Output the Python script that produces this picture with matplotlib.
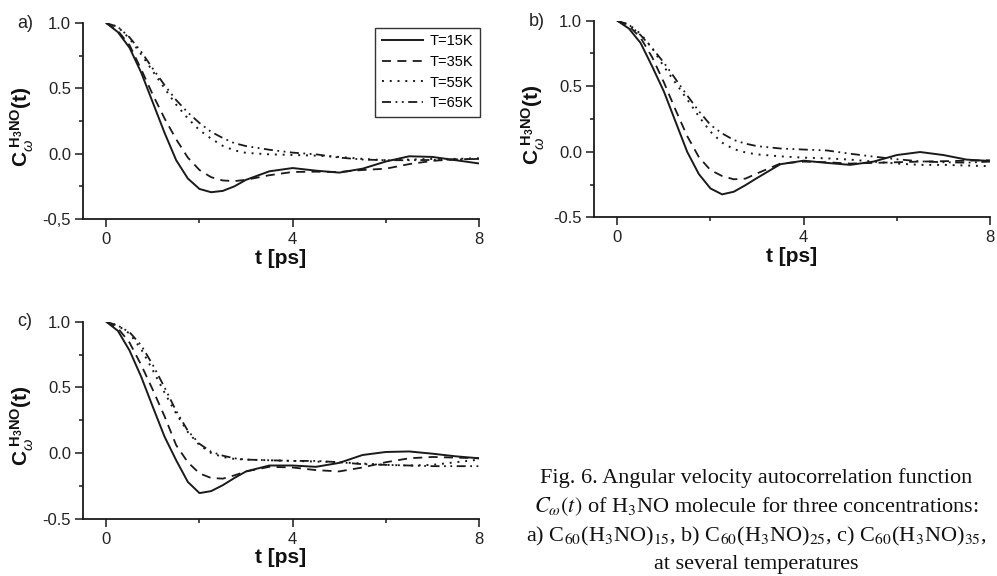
import matplotlib
matplotlib.use("Agg")
import matplotlib.pyplot as plt

plt.rcParams['font.family'] = ['Liberation Sans', 'DejaVu Sans']
plt.rcParams['mathtext.fontset'] = 'custom'
plt.rcParams['mathtext.rm'] = 'Liberation Sans'
plt.rcParams['mathtext.bf'] = 'Liberation Sans:bold'
plt.rcParams['mathtext.it'] = 'Liberation Sans:italic'

# ---------------- data ----------------
t = [0, 0.25, 0.5, 0.75, 1.0, 1.25, 1.5, 1.75, 2.0, 2.25, 2.5, 2.75, 3.0,
     3.5, 4.0, 4.5, 5.0, 5.5, 6.0, 6.5, 7.0, 7.5, 8.0]

labels = ["T=15K", "T=35K", "T=55K", "T=65K"]

a_15 = [1.0, 0.93, 0.81, 0.62, 0.39, 0.16, -0.05, -0.19, -0.27, -0.295, -0.285, -0.25, -0.20,
        -0.135, -0.11, -0.13, -0.145, -0.115, -0.06, -0.02, -0.025, -0.05, -0.075]
a_35 = [1.0, 0.94, 0.83, 0.645, 0.45, 0.27, 0.11, -0.03, -0.125, -0.18, -0.205, -0.21, -0.20,
        -0.165, -0.14, -0.138, -0.14, -0.125, -0.115, -0.08, -0.055, -0.043, -0.04]
a_55 = [1.0, 0.97, 0.88, 0.76, 0.63, 0.50, 0.375, 0.27, 0.18, 0.115, 0.06, 0.025, 0.006,
        -0.005, -0.01, -0.015, -0.025, -0.04, -0.05, -0.045, -0.04, -0.04, -0.035]
a_65 = [1.0, 0.97, 0.89, 0.78, 0.65, 0.525, 0.41, 0.315, 0.235, 0.167, 0.12, 0.08, 0.058,
        0.03, 0.008, -0.005, -0.03, -0.045, -0.05, -0.05, -0.048, -0.045, -0.04]

b_15 = [1.0, 0.94, 0.83, 0.65, 0.46, 0.23, 0.0, -0.17, -0.28, -0.325, -0.305, -0.255, -0.20,
        -0.095, -0.068, -0.085, -0.10, -0.075, -0.025, -0.002, -0.025, -0.06, -0.07]
b_35 = [1.0, 0.96, 0.87, 0.72, 0.53, 0.32, 0.12, -0.04, -0.14, -0.185, -0.21, -0.205, -0.165,
        -0.09, -0.075, -0.08, -0.09, -0.085, -0.08, -0.075, -0.072, -0.068, -0.065]
b_55 = [1.0, 0.97, 0.90, 0.79, 0.65, 0.525, 0.40, 0.27, 0.153, 0.07, 0.02, -0.005, -0.02,
        -0.035, -0.045, -0.05, -0.06, -0.075, -0.09, -0.10, -0.10, -0.105, -0.11]
b_65 = [1.0, 0.97, 0.89, 0.79, 0.68, 0.555, 0.43, 0.31, 0.205, 0.14, 0.09, 0.062, 0.043,
        0.025, 0.017, 0.01, -0.015, -0.037, -0.057, -0.073, -0.08, -0.083, -0.075]

c_15 = [1.0, 0.93, 0.78, 0.58, 0.35, 0.125, -0.055, -0.22, -0.305, -0.29, -0.245, -0.19, -0.14,
        -0.095, -0.095, -0.105, -0.075, -0.015, 0.008, 0.012, -0.005, -0.025, -0.04]
c_35 = [1.0, 0.95, 0.84, 0.67, 0.48, 0.28, 0.06, -0.07, -0.155, -0.19, -0.195, -0.17, -0.14,
        -0.105, -0.11, -0.13, -0.14, -0.11, -0.07, -0.04, -0.03, -0.035, -0.04]
c_55 = [1.0, 0.97, 0.91, 0.79, 0.63, 0.46, 0.30, 0.16, 0.06, 0.0, -0.03, -0.045, -0.05,
        -0.055, -0.06, -0.065, -0.07, -0.08, -0.09, -0.095, -0.09, -0.07, -0.05]
c_65 = [1.0, 0.97, 0.92, 0.82, 0.67, 0.50, 0.32, 0.17, 0.07, 0.01, -0.02, -0.04, -0.05,
        -0.055, -0.06, -0.06, -0.07, -0.085, -0.09, -0.095, -0.10, -0.10, -0.10]

x_ticks = [0, 4, 8]
x_minor = [2, 6]
y_ticks = [1.0, 0.5, 0.0, -0.5]
y_minor = [0.75, 0.25, -0.25]
y_ticklabels_a = ["1.0", "0.5", "0.0", "-0,5"]
y_ticklabels_bc = ["1.0", "0.5", "0.0", "-0.5"]

# ---------------- styles ----------------
INK = '#1a1a1a'
styles = [
    dict(linestyle='-', linewidth=1.4),
    dict(linestyle=(0, (5, 3.5)), linewidth=1.3),
    dict(linestyle=(0, (1, 3)), linewidth=1.4),
    dict(linestyle=(0, (5, 2.5, 1, 2.5, 1, 2.5)), linewidth=1.3),
]

fig = plt.figure(figsize=(9.97, 5.76), dpi=100)

W = 396 / 997
panels = [
    ("a)", [a_15, a_35, a_55, a_65], [83 / 997, 1 - 219 / 576, W, 196 / 576], y_ticklabels_a, (17, 24)),
    ("b)", [b_15, b_35, b_55, b_65], [594 / 997, 1 - 217.3 / 576, W, 196.6 / 576], y_ticklabels_bc, (529, 22)),
    ("c)", [c_15, c_35, c_55, c_65], [83 / 997, 1 - 518.7 / 576, W, 197 / 576], y_ticklabels_bc, (17, 322)),
]

ylabel = r'$\mathbf{C}_{\omega}^{\ \mathbf{H_3NO}}\mathbf{(t)}$'

for i, (tag, series, rect, yticklabels, tagpos) in enumerate(panels):
    ax = fig.add_axes(rect)
    for s, lab, st in zip(series, labels, styles):
        ax.plot(t, s, color=INK, label=lab, solid_joinstyle='round', **st)
    ax.set_xlim(-0.5, 8)
    ax.set_ylim(-0.5, 1.0)
    for side in ('top', 'right'):
        ax.spines[side].set_visible(False)
    for side in ('left', 'bottom'):
        ax.spines[side].set_linewidth(1.3)
        ax.spines[side].set_color(INK)
    ax.set_xticks(x_ticks)
    ax.set_xticks(x_minor, minor=True)
    ax.set_yticks(y_ticks)
    ax.set_yticks(y_minor, minor=True)
    ax.set_yticklabels(yticklabels)
    ax.tick_params(axis='both', which='both', direction='out', color=INK, width=1.1)
    ax.tick_params(axis='both', which='major', length=5.5, labelsize=12, labelcolor='#222222')
    ax.tick_params(axis='both', which='minor', length=3.0)
    ax.tick_params(axis='x', which='major', pad=4)
    ax.tick_params(axis='y', which='major', pad=3)
    ax.set_xlabel('t [ps]', fontsize=15, fontweight='bold', color='#111111', labelpad=1)
    ax.set_ylabel(ylabel, fontsize=15, color='#111111')
    ax.yaxis.set_label_coords(-0.118, 0.47)
    fig.text(tagpos[0] / 997, 1 - tagpos[1] / 576, tag, fontsize=13, ha='left', va='center',
             color='#222222')
    if i == 0:
        leg = ax.legend(loc='upper right', bbox_to_anchor=(1.003, 0.975), fontsize=10.5,
                        handlelength=2.8, handletextpad=0.5, labelspacing=0.45,
                        borderpad=0.45, fancybox=False, framealpha=1, borderaxespad=0)
        leg.get_frame().set_edgecolor('#333333')
        leg.get_frame().set_linewidth(1.0)

caption = [
    "Fig. 6. Angular velocity autocorrelation function",
    r"$C_{\omega}(t)$ of H$_3$NO molecule for three concentrations:",
    r"a) C$_{60}$(H$_3$NO)$_{15}$, b) C$_{60}$(H$_3$NO)$_{25}$, c) C$_{60}$(H$_3$NO)$_{35}$,",
    "at several temperatures",
]
baselines = [483, 512, 541, 569]
for line, yb in zip(caption, baselines):
    fig.text(756 / 997, 1 - yb / 576, line, fontsize=16, ha='center', va='baseline',
             family=['Liberation Serif', 'DejaVu Serif'], math_fontfamily='stix', color='#111111')

fig.savefig('out.png', dpi=100)
